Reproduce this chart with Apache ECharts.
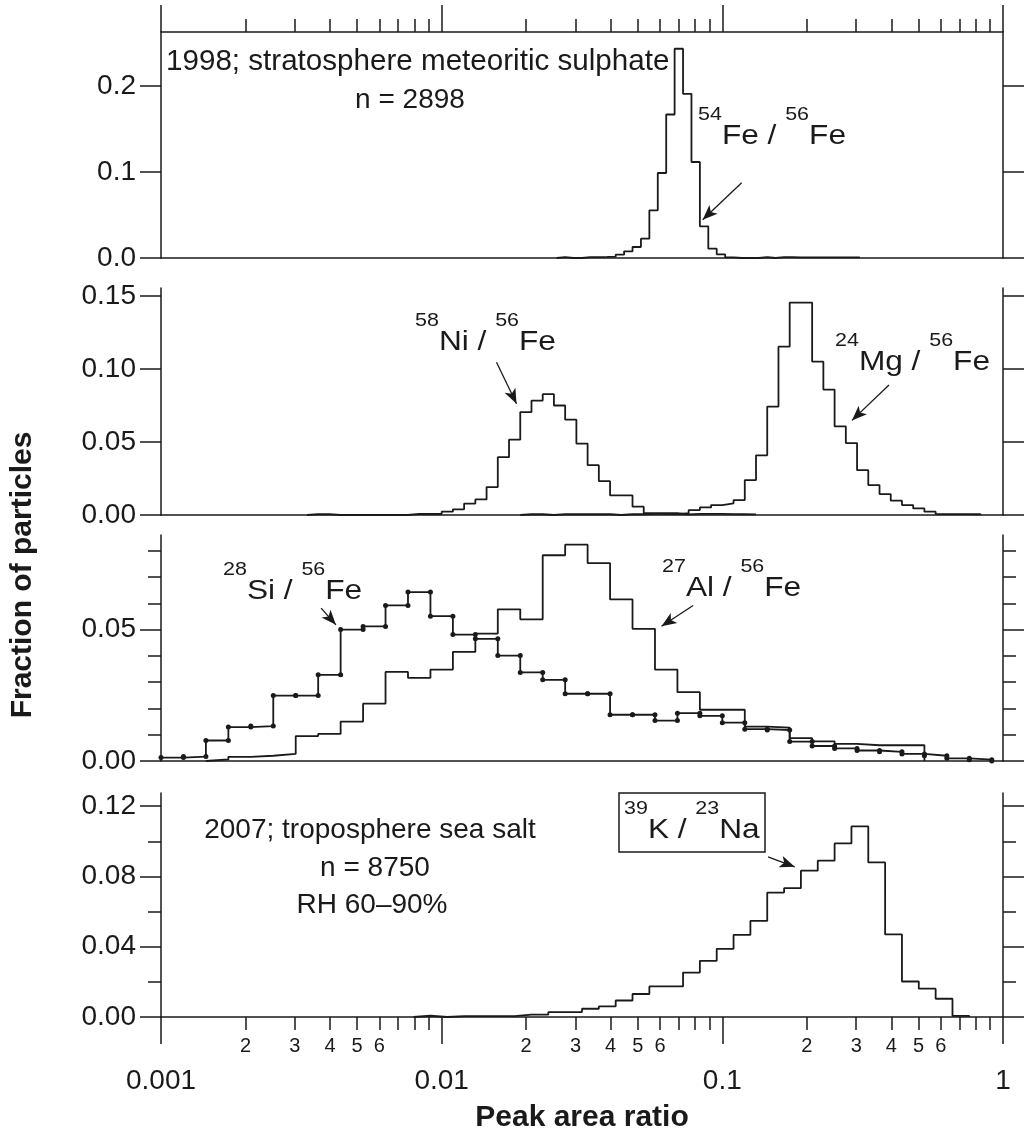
<!DOCTYPE html>
<html>
<head>
<meta charset="utf-8">
<script src="https://cdn.jsdelivr.net/npm/echarts@6/dist/echarts.min.js"></script>
<style>
  html, body { margin: 0; padding: 0; background: #ffffff; }
  #chart { width: 1024px; height: 1140px; }
</style>
</head>
<body>
<div id="chart"></div>
<script>
// ---------------------------------------------------------------------------
// Histograms of single-particle peak area ratios (fraction of particles per bin).
// Every histogram uses logarithmic bins: LOG_START is log10 of the first bin's
// left edge, LOG_STEP the bin width in decades.
// ---------------------------------------------------------------------------

// 1998, stratosphere meteoritic sulphate: 54Fe / 56Fe
const FE_LOG_START = -1.59;
const FE_LOG_STEP = 0.03;
const FE54_FE56 = [0.001, 0, 0, 0.001, 0.001, 0.0012, 0.0015, 0.0039, 0.0078, 0.0128,
  0.0225, 0.0555, 0.0989, 0.167, 0.2435, 0.191, 0.1117, 0.0369, 0.0109, 0.0043,
  0.0008, 0, 0, 0, 0.001, 0, 0.001, 0.001, 0.0008, 0.0008,
  0.0008, 0.0008, 0.0008, 0.0008, 0.0008, 0.0008];

// 58Ni / 56Fe and 24Mg / 56Fe
const NI_LOG_START = -2.48;
const NI_LOG_STEP = 0.04;
const NI58_FE56 = [0.0005, 0.0005, 0, 0, 0, 0, 0, 0, 0, 0.0007,
  0.0007, 0.0007, 0.0023, 0.0039, 0.0078, 0.0107, 0.0191, 0.0396, 0.0516, 0.0705,
  0.0784, 0.0828, 0.075, 0.0653, 0.0489, 0.0341, 0.0232, 0.0134, 0.0134, 0.0057,
  0.0012, 0.0012, 0.0012, 0.0004, 0.0008, 0.0008, 0.0008, 0.0006, 0.0005, 0.0004];

const MG_LOG_START = -1.72;
const MG_LOG_STEP = 0.04;
const MG24_FE56 = [0.0005, 0.0005, 0, 0.0005, 0.0005, 0.0005, 0.0005, 0.0005, 0, 0.0005,
  0.0005, 0.0008, 0.0008, 0.0006, 0.0012, 0.0034, 0.0052, 0.0068, 0.008, 0.0102,
  0.0239, 0.0409, 0.0743, 0.1153, 0.1455, 0.1455, 0.105, 0.0859, 0.0607, 0.0493,
  0.0307, 0.0205, 0.0143, 0.0098, 0.0068, 0.0045, 0.0023, 0.0006, 0.0006, 0.0006,
  0.0005];

// 28Si / 56Fe (drawn with dots) and 27Al / 56Fe
const SI_LOG_START = -3.0;
const SI_LOG_STEP = 0.08;
const SI28_FE56 = [0.0013, 0.0017, 0.0078, 0.0129, 0.0133, 0.0249, 0.0249, 0.0328, 0.050, 0.0512,
  0.0592, 0.0643, 0.0551, 0.0481, 0.0465, 0.0401, 0.0337, 0.0309, 0.0256, 0.0256,
  0.0176, 0.0176, 0.0154, 0.0182, 0.0172, 0.0146, 0.0121, 0.0118, 0.0074, 0.0057,
  0.0048, 0.004, 0.0035, 0.0027, 0.002, 0.001, 0.0005];

const AL_LOG_START = -2.84;
const AL_LOG_STEP = 0.08;
const AL27_FE56 = [0.0006, 0.0016, 0.002, 0.0027, 0.0095, 0.0103, 0.015, 0.0218, 0.0339, 0.0316,
  0.0348, 0.0415, 0.0485, 0.0577, 0.0539, 0.0783, 0.0823, 0.0753, 0.0615, 0.0503,
  0.0348, 0.0262, 0.0195, 0.0195, 0.0131, 0.0127, 0.0087, 0.0075, 0.0065, 0.006,
  0.006, 0.006];

// 2007, troposphere sea salt: 39K / 23Na
const KNA_LOG_START = -2.1;
const KNA_LOG_STEP = 0.06;
const K39_NA23 = [0.0007, 0, 0.0005, 0.0005, 0.0005, 0.0005, 0.0013, 0.0013, 0.0028, 0.0028,
  0.0047, 0.006, 0.0094, 0.0131, 0.0174, 0.0174, 0.0253, 0.032, 0.0388, 0.0467,
  0.0547, 0.0708, 0.0733, 0.0833, 0.089, 0.0988, 0.1085, 0.088, 0.047, 0.0202,
  0.0161, 0.0104, 0.0006];

// Shared x axis (peak area ratio, log scale)
const X_MIN = 0.001;
const X_MAX = 1;
const X_MAJOR_TICKS = [0.001, 0.01, 0.1, 1];
const X_MAJOR_LABELS = ['0.001', '0.01', '0.1', '1'];
const X_MINOR_TICKS = [0.002, 0.003, 0.004, 0.005, 0.006, 0.007, 0.008, 0.009,
  0.02, 0.03, 0.04, 0.05, 0.06, 0.07, 0.08, 0.09,
  0.2, 0.3, 0.4, 0.5, 0.6, 0.7, 0.8, 0.9];
const X_MINOR_LABELED = [0.002, 0.003, 0.004, 0.005, 0.006,
  0.02, 0.03, 0.04, 0.05, 0.06,
  0.2, 0.3, 0.4, 0.5, 0.6];
const X_MINOR_LABELS = ['2', '3', '4', '5', '6', '2', '3', '4', '5', '6', '2', '3', '4', '5', '6'];

// y axes (fraction of particles), one per panel
const Y1_MAX = 0.263, Y1_TICKS = [0, 0.1, 0.2], Y1_LABELS = ['0.0', '0.1', '0.2'], Y1_MINOR = [];
const Y2_MAX = 0.1555, Y2_TICKS = [0, 0.05, 0.10, 0.15], Y2_LABELS = ['0.00', '0.05', '0.10', '0.15'], Y2_MINOR = [];
const Y3_MAX = 0.086, Y3_TICKS = [0, 0.05], Y3_LABELS = ['0.00', '0.05'], Y3_MINOR = [0.01, 0.02, 0.03, 0.04, 0.06, 0.07, 0.08];
const Y4_MAX = 0.1275, Y4_TICKS = [0, 0.04, 0.08, 0.12], Y4_LABELS = ['0.00', '0.04', '0.08', '0.12'], Y4_MINOR = [0.02, 0.06, 0.10];

// Annotation arrows, [tail, head] in data coordinates of their panel
const ARROW_FE = [[0.1172, 0.0876], [0.0851, 0.0445]];
const ARROW_NI = [[0.01568, 0.1046], [0.01848, 0.0762]];
const ARROW_MG = [[0.3924, 0.0891], [0.2896, 0.0648]];
const ARROW_SI = [[0.00372, 0.0582], [0.0042, 0.0518]];
const ARROW_AL = [[0.0787, 0.0592], [0.0607, 0.0513]];
const ARROW_KNA = [[0.1455, 0.0912], [0.1811, 0.0855]];

// ---------------------------------------------------------------------------
const INK = '#1a1a1a';
const FONT = '"Liberation Sans", Arial, Helvetica, sans-serif';
const LEFT = 161, RIGHT = 21;
const GRIDS = [
  { left: LEFT, right: RIGHT, top: 32, height: 226 },
  { left: LEFT, right: RIGHT, top: 288, height: 227 },
  { left: LEFT, right: RIGHT, top: 535, height: 226 },
  { left: LEFT, right: RIGHT, top: 793, height: 224 }
];
const Y_MAJOR_LEN = 21, Y_MINOR_LEN = 13;
const X_MAJOR_LEN = 27, X_MINOR_LEN = 13;

function edge(logStart, logStep, i) {
  return Math.pow(10, Number((logStart + i * logStep).toFixed(6)));
}

// Outline of a histogram as a step line: rise at the first edge, drop after the last bin.
function stepOutline(logStart, logStep, values) {
  const pts = [[edge(logStart, logStep, 0), 0]];
  values.forEach((v, i) => pts.push([edge(logStart, logStep, i), v]));
  pts.push([edge(logStart, logStep, values.length), 0]);
  return pts;
}

// Every bin corner as an explicit point (used for the dotted histogram).
function cornerPoints(logStart, logStep, values) {
  const pts = [];
  values.forEach((v, i) => {
    pts.push([edge(logStart, logStep, i), v]);
    pts.push([edge(logStart, logStep, i + 1), v]);
  });
  pts.push([edge(logStart, logStep, values.length), 0]);
  return pts;
}

const xAxis = [];
const yAxis = [];
function add(list, cfg) { list.push(cfg); return list.length - 1; }

const lineStyle = { color: INK, width: 1.5 };
const labelFont = { color: INK, fontFamily: FONT, fontSize: 28 };

// Log axis carrying the data of each panel (its line is the panel's baseline)
function dataXAxis(g) {
  return add(xAxis, {
    type: 'log', logBase: 10, gridIndex: g, min: X_MIN, max: X_MAX, position: 'bottom',
    axisLine: { show: true, onZero: false, lineStyle },
    axisTick: { show: false }, axisLabel: { show: false }, splitLine: { show: false }
  });
}

// Tick axis in decades (log10 of the ratio) laid over the same grid
function tickXAxis(g, position, ticks, len, labels, labelValues, margin, fontSize, showLine) {
  return add(xAxis, {
    type: 'value', gridIndex: g, min: Math.log10(X_MIN), max: Math.log10(X_MAX), position,
    axisLine: { show: !!showLine, onZero: false, lineStyle },
    axisTick: { show: true, inside: false, length: len, lineStyle, customValues: ticks.map(Math.log10) },
    axisLabel: labels ? {
      show: true, margin, ...labelFont, fontSize,
      customValues: labelValues.map(Math.log10),
      formatter: (v) => {
        const i = labelValues.findIndex(t => Math.abs(Math.log10(t) - v) < 1e-6);
        return i >= 0 ? labels[i] : '';
      }
    } : { show: false },
    splitLine: { show: false }
  });
}

function valueYAxis(g, max, position, ticks, len, labels, showLine) {
  return add(yAxis, {
    type: 'value', gridIndex: g, min: 0, max, position,
    axisLine: { show: showLine, onZero: false, lineStyle },
    axisTick: { show: ticks.length > 0, inside: false, length: len, lineStyle, customValues: ticks },
    axisLabel: labels ? {
      show: true, margin: 25, ...labelFont,
      customValues: ticks,
      formatter: (v) => {
        const i = ticks.findIndex(t => Math.abs(t - v) < 1e-9);
        return i >= 0 ? labels[i] : '';
      }
    } : { show: false },
    splitLine: { show: false }
  });
}

function panelYAxes(g, max, ticks, labels, minor) {
  const left = valueYAxis(g, max, 'left', ticks, Y_MAJOR_LEN, labels, true);
  valueYAxis(g, max, 'right', ticks, Y_MAJOR_LEN, null, true);
  if (minor.length) {
    valueYAxis(g, max, 'left', minor, Y_MINOR_LEN, null, false);
    valueYAxis(g, max, 'right', minor, Y_MINOR_LEN, null, false);
  }
  return left;
}

// Panel 1: framed on top by an axis carrying the decade ticks
const x1 = dataXAxis(0);
tickXAxis(0, 'top', X_MAJOR_TICKS, X_MAJOR_LEN, null, null, 0, 0, true);
tickXAxis(0, 'top', X_MINOR_TICKS, X_MINOR_LEN, null);
const y1 = panelYAxes(0, Y1_MAX, Y1_TICKS, Y1_LABELS, Y1_MINOR);

const x2 = dataXAxis(1);
const y2 = panelYAxes(1, Y2_MAX, Y2_TICKS, Y2_LABELS, Y2_MINOR);

const x3 = dataXAxis(2);
const y3 = panelYAxes(2, Y3_MAX, Y3_TICKS, Y3_LABELS, Y3_MINOR);

// Panel 4: bottom axis with decade labels and 2..6 sub-labels
const x4 = dataXAxis(3);
tickXAxis(3, 'bottom', X_MAJOR_TICKS, X_MAJOR_LEN, X_MAJOR_LABELS, X_MAJOR_TICKS, 50, 28);
tickXAxis(3, 'bottom', X_MINOR_TICKS, X_MINOR_LEN, X_MINOR_LABELS, X_MINOR_LABELED, 19, 20);
const y4 = panelYAxes(3, Y4_MAX, Y4_TICKS, Y4_LABELS, Y4_MINOR);

function arrow(a) {
  return {
    silent: true, animation: false,
    symbol: ['none', 'arrow'], symbolSize: [9, 15],
    lineStyle: { color: INK, width: 1.3, type: 'solid' },
    label: { show: false },
    emphasis: { disabled: true },
    data: [[{ coord: a[0] }, { coord: a[1] }]]
  };
}

function histSeries(name, xi, yi, data, arrowPts, extra) {
  return Object.assign({
    name, type: 'line', xAxisIndex: xi, yAxisIndex: yi, data,
    step: 'end', showSymbol: false, symbol: 'none',
    lineStyle: { color: INK, width: 1.8 },
    itemStyle: { color: INK },
    animation: false, silent: true, z: 3,
    markLine: arrowPts ? arrow(arrowPts) : undefined
  }, extra || {});
}

const series = [
  histSeries('54Fe/56Fe', x1, y1, stepOutline(FE_LOG_START, FE_LOG_STEP, FE54_FE56), ARROW_FE),
  histSeries('58Ni/56Fe', x2, y2, stepOutline(NI_LOG_START, NI_LOG_STEP, NI58_FE56), ARROW_NI),
  histSeries('24Mg/56Fe', x2, y2, stepOutline(MG_LOG_START, MG_LOG_STEP, MG24_FE56), ARROW_MG),
  histSeries('27Al/56Fe', x3, y3, stepOutline(AL_LOG_START, AL_LOG_STEP, AL27_FE56), ARROW_AL),
  histSeries('28Si/56Fe', x3, y3, cornerPoints(SI_LOG_START, SI_LOG_STEP, SI28_FE56), ARROW_SI, {
    step: false, showSymbol: true, showAllSymbol: true, symbol: 'circle', symbolSize: 5
  }),
  histSeries('39K/23Na', x4, y4, stepOutline(KNA_LOG_START, KNA_LOG_STEP, K39_NA23), ARROW_KNA)
];

// ---------------------------------------------------------------------------
// Text annotations
const RICH = {
  s: { fontSize: 19, fontFamily: FONT, lineHeight: 19, verticalAlign: 'top', fill: INK },
  m: { fontSize: 28, fontFamily: FONT, lineHeight: 28, verticalAlign: 'top', padding: [17, 0, 0, 0], fill: INK }
};
const ISOTOPE_STRETCH = 1.13;
function isotopeLabel(x, top, a1, e1, a2, e2) {
  return {
    type: 'text', x, y: top, scaleX: ISOTOPE_STRETCH, silent: true,
    style: {
      text: '{s|' + a1 + '}{m|' + e1 + ' / }{s|' + a2 + '}{m|' + e2 + '}',
      rich: RICH, align: 'left', verticalAlign: 'top'
    }
  };
}
function plainText(x, y, text, align, size, weight, rotation) {
  return {
    type: 'text', x, y, rotation: rotation || 0, silent: true,
    style: {
      text, fill: INK, fontFamily: FONT, fontSize: size, fontWeight: weight || 'normal',
      align, verticalAlign: 'middle'
    }
  };
}

const graphic = [
  plainText(166, 62, '1998; stratosphere meteoritic sulphate', 'left', 29.6),
  plainText(410, 100, 'n = 2898', 'center', 28),
  isotopeLabel(698, 105, '54', 'Fe', '56', 'Fe'),
  isotopeLabel(415, 311, '58', 'Ni', '56', 'Fe'),
  isotopeLabel(835, 331, '24', 'Mg', '56', 'Fe'),
  isotopeLabel(223, 560, '28', 'Si', '56', 'Fe'),
  isotopeLabel(662, 557, '27', 'Al', '56', 'Fe'),
  plainText(370, 830, '2007; troposphere sea salt', 'center', 28),
  plainText(375, 868, 'n = 8750', 'center', 28),
  plainText(372, 905, 'RH 60\u201390%', 'center', 28),
  {
    type: 'rect', silent: true,
    shape: { x: 619, y: 793, width: 146, height: 59 },
    style: { fill: 'none', stroke: INK, lineWidth: 1.5 }
  },
  isotopeLabel(624, 799, '39', 'K', '23', 'Na'),
  plainText(23, 575, 'Fraction of particles', 'center', 30, 'bold', Math.PI / 2),
  plainText(582, 1118, 'Peak area ratio', 'center', 30, 'bold')
];

const chart = echarts.init(document.getElementById('chart'), null, { renderer: 'canvas' });
chart.setOption({
  backgroundColor: '#ffffff',
  animation: false,
  grid: GRIDS,
  xAxis,
  yAxis,
  series,
  graphic
});
</script>
</body>
</html>
